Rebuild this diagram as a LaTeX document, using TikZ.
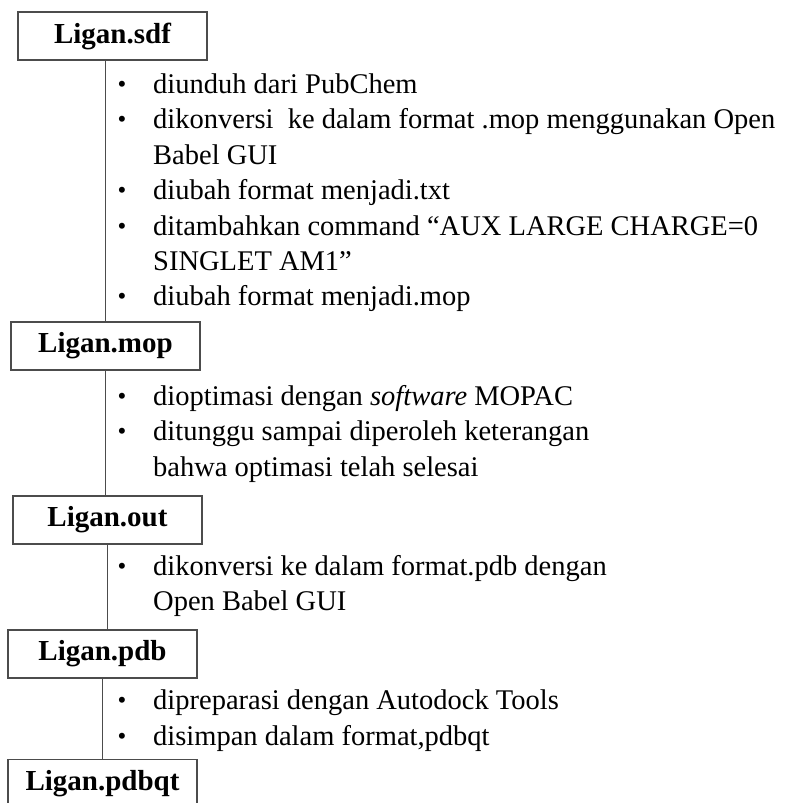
\documentclass[tikz,border=0pt]{standalone}
\usepackage{fontspec}
\setmainfont{Liberation Serif}
\usepackage{tikz}
\usetikzlibrary{calc}
\newcommand{\linecolor}{black!70}
\newcommand{\thickness}{1.2pt}
\newcommand{\bx}{122}
\newcommand{\tx}{153}
\tikzset{
  box/.style={draw=\linecolor, line width=\thickness, minimum width=189pt, minimum height=48pt, inner sep=0pt, font=\fontsize{29}{34}\selectfont\bfseries},
  bul/.style={anchor=base, inner sep=0pt, yshift=0.5pt, font=\fontsize{25}{34}\selectfont},
  txt/.style={anchor=base west, inner sep=0pt, font=\fontsize{28.5}{34}\selectfont}
}

\begin{document}
\begin{tikzpicture}[x=1pt, y=-1pt]
\useasboundingbox (0,0) rectangle (806,803);
%boxes
\node[box] (1) at (112.5, 36) {Ligan.sdf};
\node[box] (2) at (105.5, 346) {Ligan.mop};
\node[box] (3) at (107.5, 520) {Ligan.out};
\node[box] (4) at (102.5, 654) {Ligan.pdb};
\node[box] (5) at (102.5, 783.5) {Ligan.pdbqt};
%lines
\draw[\linecolor, line width=\thickness] (2.north |- 1.south) -- (2.north);
\draw[\linecolor, line width=\thickness] (2.south) -- (2.south |- 3.north);
\draw[\linecolor, line width=\thickness] (3.south) -- (3.south |- 4.north);
\draw[\linecolor, line width=\thickness] (5.north |- 4.south) -- (5.north);
%sdf
\node[bul] (1b1) at (\bx, 93) {\textbullet};
\node[txt] (1t1) at (\tx, 93) {diunduh dari PubChem};
\node[bul] (1b2) at (\bx, 128) {\textbullet};
\node[txt] (1t2) at (\tx, 128) {dikonversi\ \ ke dalam format .mop menggunakan Open};
\node[txt] (1t3) at (\tx, 164) {Babel GUI};
\node[bul] (1b3) at (\bx, 199) {\textbullet};
\node[txt] (1t4) at (\tx, 199) {diubah format menjadi.txt};
\node[bul] (1b4) at (\bx, 235) {\textbullet};
\node[txt] (1t5) at (\tx, 235) {ditambahkan command “AUX LARGE CHARGE=0};
\node[txt] (1t6) at (\tx, 270) {SINGLET AM1”};
\node[bul] (1b5) at (\bx, 305) {\textbullet};
\node[txt] (1t7) at (\tx, 305) {diubah format menjadi.mop};
%mop
\node[bul] (2b1) at (\bx, 405) {\textbullet};
\node[txt] (2t1) at (\tx, 405) {dioptimasi dengan \textit{software} MOPAC};
\node[bul] (2b2) at (\bx, 440) {\textbullet};
\node[txt] (2t2) at (\tx, 440) {ditunggu sampai diperoleh keterangan};
\node[txt] (2t3) at (\tx, 476) {bahwa optimasi telah selesai};
%out
\node[bul] (3b1) at (\bx, 575) {\textbullet};
\node[txt] (3t1) at (\tx, 575) {dikonversi ke dalam format.pdb dengan};
\node[txt] (3t2) at (\tx, 610) {Open Babel GUI};
%pdb
\node[bul] (4b1) at (\bx, 709) {\textbullet};
\node[txt] (4t1) at (\tx, 709) {dipreparasi dengan Autodock Tools};
\node[bul] (4b2) at (\bx, 745) {\textbullet};
\node[txt] (4t2) at (\tx, 745) {disimpan dalam format,pdbqt};
\end{tikzpicture}
\end{document}
